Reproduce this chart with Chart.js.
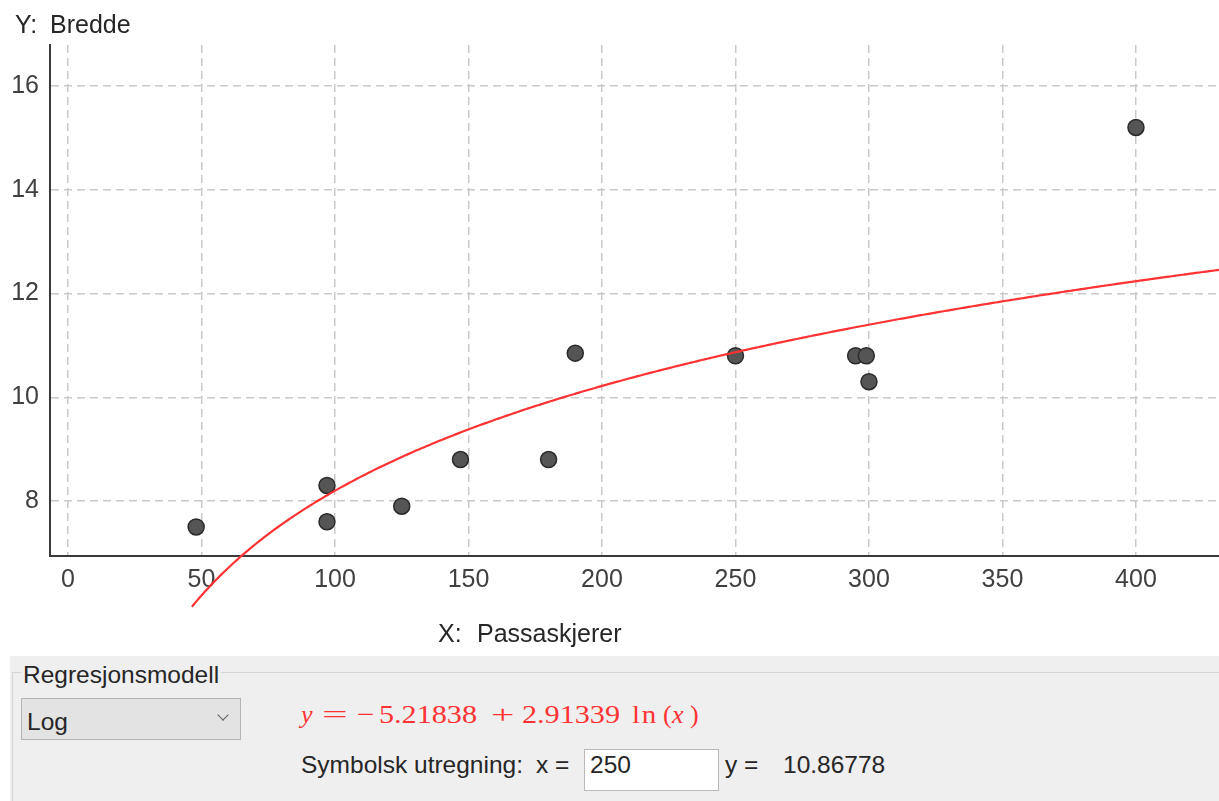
<!DOCTYPE html>
<html>
<head>
<meta charset="utf-8">
<script src="https://cdn.jsdelivr.net/npm/chart.js@4/dist/chart.umd.min.js"></script>
<style>
  html, body { margin: 0; padding: 0; background: #ffffff; }
  body { width: 1219px; height: 801px; position: relative; overflow: hidden;
         font-family: "Liberation Sans", Arial, sans-serif; color: #262626; }
  #plot { position: absolute; left: 0; top: 0; width: 1219px; height: 656px; }
  .lbl { position: absolute; white-space: pre; font-size: 25px; line-height: 25px; color: #262626; }
  #panel { position: absolute; left: 10px; top: 656px; width: 1209px; height: 145px; background: #efefef; }
  #frame { position: absolute; left: 12px; top: 672px; width: 1207px; height: 129px;
           border-top: 1px solid #d4d4d4; border-left: 1px solid #d4d4d4; box-sizing: border-box; }
  .ptxt { position: absolute; white-space: pre; font-size: 24.5px; line-height: 25px; color: #262626; }
  #legendTxt { background: #efefef; padding: 0 2px; }
  #model { position: absolute; left: 21px; top: 698px; width: 220px; height: 42px; box-sizing: border-box;
           background: #e3e3e3; border: 1px solid #b4b4b4; }
  #chev { position: absolute; left: 219px; top: 711px; width: 7px; height: 7px;
          border-right: 1.5px solid #606060; border-bottom: 1.5px solid #606060; transform: rotate(45deg); }
  #xbox { position: absolute; left: 584px; top: 749px; width: 135px; height: 42px; box-sizing: border-box;
          background: #ffffff; border: 1px solid #b9b9b9; }
  .f { position: absolute; white-space: pre; font-family: "Liberation Serif", "DejaVu Serif", serif;
       font-size: 26px; line-height: 26px; color: #ff3333; top: 702px; transform-origin: 0 50%; }
  .fi { font-style: italic; }
  .s-num { transform: scaleX(1.16); }
  .s-ln  { letter-spacing: 1.5px; transform: scaleX(1.12); }
  .s-eq  { transform: scaleX(1.75); }
  .s-pl  { transform: scaleX(1.6); }
  .s-mi  { transform: scaleX(1.2); }
</style>
</head>
<body>
<div id="plot"><canvas id="c" width="1219" height="656"></canvas></div>

<div class="lbl" style="left:15px; top:12px;">Y:</div>
<div class="lbl" style="left:50px; top:12px;">Bredde</div>
<div class="lbl" style="left:438px; top:621px;">X:</div>
<div class="lbl" style="left:477px; top:621px;">Passaskjerer</div>

<div id="panel"></div>
<div id="frame"></div>
<div class="ptxt" style="left:21px; top:662px;"><span id="legendTxt">Regresjonsmodell</span></div>
<div id="model"></div>
<div class="ptxt" style="left:27px; top:709px;">Log</div>
<div id="chev"></div>

<!-- fitted model: y = A + B ln(x) -->
<span class="f fi" style="left:301px;">y</span>
<span class="f s-eq" style="left:322px;">=</span>
<span class="f s-mi" style="left:357px;">−</span>
<span class="f s-num" style="left:379px;" id="fa"></span>
<span class="f s-pl" style="left:491px;">+</span>
<span class="f s-num" style="left:522px;" id="fb"></span>
<span class="f s-ln" style="left:632px;">ln</span>
<span class="f" style="left:663px;">(</span>
<span class="f fi" style="left:672px;">x</span>
<span class="f" style="left:690px;">)</span>

<div class="ptxt" style="left:301px; top:752px;">Symbolsk utregning:</div>
<div class="ptxt" style="left:536px; top:752px;">x =</div>
<div id="xbox"></div>
<div class="ptxt" style="left:590px; top:752px;" id="xval"></div>
<div class="ptxt" style="left:725px; top:752px;">y =</div>
<div class="ptxt" style="left:783px; top:752px;" id="yval"></div>

<script>
// Measured ships: passengers (x) and width (y)
const passengers = [48, 97, 97, 125, 147, 180, 190, 250, 295, 299, 300, 400];
const widths     = [7.5, 8.3, 7.6, 7.9, 8.8, 8.8, 10.85, 10.8, 10.8, 10.8, 10.3, 15.2];

// Logarithmic regression coefficients, y = A + B ln(x)
const coefA = -5.21838;
const coefB = 2.91339;

// Symbolic evaluation shown in the panel
const evalX = 250;
const evalY = "10.86778";

// Axis settings
const xTickStep = 50;
const yTickStep = 2;
const xRange = [-6.74, 431.1];
const yRange = [6.94, 16.79];
const curveStartX = 46.4;

document.getElementById('fa').textContent = Math.abs(coefA).toFixed(5);
document.getElementById('fb').textContent = coefB.toFixed(5);
document.getElementById('xval').textContent = String(evalX);
document.getElementById('yval').textContent = evalY;

const scatterPts = passengers.map((x, i) => ({ x: x, y: widths[i] }));

// sample the regression curve across the visible x range
const curvePts = [];
for (let x = curveStartX; x < xRange[1]; x += 1) {
  curvePts.push({ x: x, y: coefA + coefB * Math.log(x) });
}
curvePts.push({ x: xRange[1], y: coefA + coefB * Math.log(xRange[1]) });

const tickFont = { family: '"Liberation Sans", Arial, sans-serif', size: 25 };
const gridStyle = { color: '#c9c9c9', lineWidth: 1.5, drawTicks: false };
const borderStyle = { display: true, color: '#3a3a3a', width: 2, dash: [8, 5] };

// keep the plot area fixed: no extra room reserved for edge tick labels
function noEdgePadding(s) {
  s.paddingLeft = 0; s.paddingRight = 0; s.paddingTop = 0; s.paddingBottom = 0;
}

new Chart(document.getElementById('c'), {
  type: 'scatter',
  data: {
    datasets: [
      {
        label: 'modell',
        data: curvePts,
        showLine: true,
        borderColor: '#ff3333',
        borderWidth: 2.2,
        pointRadius: 0,
        fill: false,
        tension: 0,
        clip: false
      },
      {
        label: 'data',
        data: scatterPts,
        pointRadius: 8,
        pointHoverRadius: 8,
        pointBackgroundColor: '#555555',
        pointBorderColor: '#2a2a2a',
        pointBorderWidth: 1.5
      }
    ]
  },
  options: {
    responsive: false,
    animation: false,
    events: [],
    layout: { autoPadding: false, padding: { top: 45, left: 0, right: 0, bottom: 0 } },
    plugins: { legend: { display: false }, tooltip: { enabled: false } },
    scales: {
      x: {
        type: 'linear',
        position: 'bottom',
        min: xRange[0],
        max: xRange[1],
        afterFit: (s) => { s.height = 100; noEdgePadding(s); },
        grid: gridStyle,
        border: borderStyle,
        ticks: { stepSize: xTickStep, includeBounds: false, font: tickFont, color: '#404040', padding: 9, maxRotation: 0 }
      },
      y: {
        type: 'linear',
        position: 'left',
        min: yRange[0],
        max: yRange[1],
        afterFit: (s) => { s.width = 50; noEdgePadding(s); },
        grid: gridStyle,
        border: borderStyle,
        ticks: { stepSize: yTickStep, includeBounds: false, font: tickFont, color: '#404040', padding: 11 }
      }
    }
  }
});
</script>
</body>
</html>
